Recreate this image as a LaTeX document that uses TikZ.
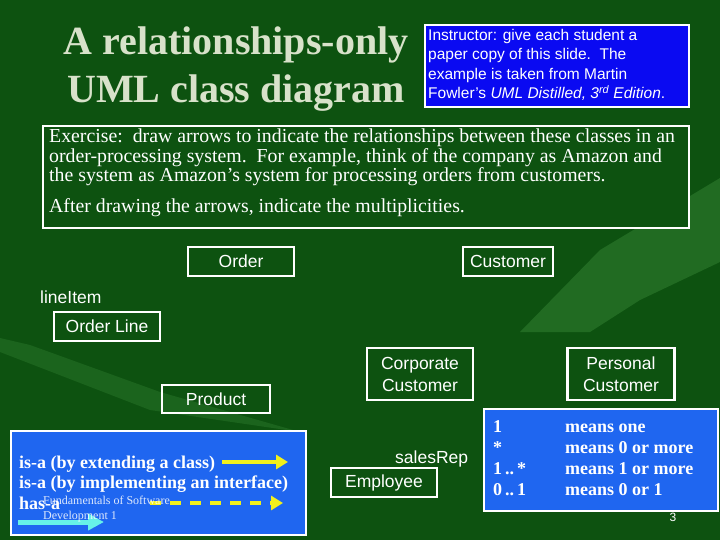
\documentclass[tikz,border=0pt]{standalone}
\usepackage{fontspec}
\setmainfont{Liberation Serif}
\setsansfont{Liberation Sans}
\usetikzlibrary{arrows.meta, shapes, positioning}
\definecolor{slidebg}{HTML}{0D5210}
\definecolor{swoosh}{HTML}{2A762A}
\definecolor{titletext}{HTML}{D8E2CA}
\definecolor{notebox}{HTML}{0A0AF2}
\definecolor{legendbox}{HTML}{1F66F0}
\definecolor{arrowyellow}{HTML}{F2F01C}
\definecolor{arrowcyan}{HTML}{66F2E8}
\tikzset{
    classbox/.style={
        rectangle, draw=white, line width=2.5pt, text=white, align=center,
        font=\sffamily\fontsize{17.5}{22}\selectfont, inner sep=0pt
    },
    bluebox/.style={
        rectangle, draw=white, line width=2.5pt, text=white, inner sep=0pt
    },
    plainlabel/.style={
        text=white, font=\sffamily\fontsize{17.5}{20}\selectfont, inner sep=0pt
    },
    legendtext/.style={
        text=white, font=\bfseries\fontsize{18}{21}\selectfont, inner sep=0pt, anchor=base west
    },
    legendarrow/.style={
        -{Triangle[length=12pt, width=14pt]}, line width=4pt, draw=arrowyellow
    }
}

\begin{document}
\begin{tikzpicture}[x=1pt, y=-1pt]
      \useasboundingbox (0,0) rectangle (720,540);
      \fill[slidebg] (0,0) rectangle (720,540);
      % faint swooshes in the background
      \fill[swoosh, opacity=0.7] (520,332) -- (600,250) -- (720,178) -- (720,262) -- (640,300) -- (590,332) -- cycle;
      \fill[swoosh, opacity=0.5] (0,338) -- (30,345) -- (160,392) -- (300,432) -- (150,410) -- (0,352) -- cycle;

      % title and instructor note
      \node[text=titletext, font=\bfseries\fontsize{40}{48}\selectfont, anchor=base, inner sep=0pt] (title1) at (236,55) {A relationships-only};
      \node[text=titletext, font=\bfseries\fontsize{40}{48}\selectfont, anchor=base, inner sep=0pt] (title2) at (236,103) {UML class diagram};

      \node[bluebox, fill=notebox, minimum width=264pt, minimum height=82pt] (note) at (557,66) {};
      \node[text=white, font=\sffamily\fontsize{15.5}{19.5}\selectfont, align=left, anchor=north west, inner sep=0pt] (notetext) at (428,29)
        {Instructor: give each student a\\paper copy of this slide.\ \ The\\example is taken from Martin\\Fowler's \emph{UML Distilled, 3\textsuperscript{rd} Edition}.};

      % exercise box
      \node[bluebox, fill=slidebg, minimum width=646pt, minimum height=102pt] (exercise) at (366,177) {};
      \node[text=white, font=\fontsize{19.8}{19.5}\selectfont, align=left, anchor=north west, inner sep=0pt] (exercisetext) at (49,129)
        {Exercise:\ \ draw arrows to indicate the relationships between these classes in an\\
         order-processing system.\ \ For example, think of the company as Amazon and\\
         the system as Amazon's system for processing orders from customers.\\[11pt]
         After drawing the arrows, indicate the multiplicities.};

      % classes
      \node[classbox, minimum width=106pt, minimum height=29pt] (order) at (241,261.5) {Order};
      \node[classbox, minimum width=90pt, minimum height=29pt] (customer) at (508,261.5) {Customer};
      \node[plainlabel, anchor=west] (lineitem) at (40,297) {lineItem};
      \node[classbox, minimum width=106pt, minimum height=29pt] (orderline) at (107,326.5) {Order Line};
      \node[classbox, minimum width=108pt, minimum height=28pt] (product) at (216,399) {Product};
      \node[classbox, minimum width=106pt, minimum height=52pt] (corporate) at (420,374) {Corporate\\Customer};
      \node[classbox, minimum width=107pt, minimum height=52pt, right=92pt of corporate] (personal) {Personal\\Customer};
      \node[plainlabel, anchor=west] (salesrep) at (395,459) {salesRep};
      \node[classbox, minimum width=106pt, minimum height=29pt] (employee) at (384,482.5) {Employee};

      % legend of arrows
      \node[bluebox, fill=legendbox, minimum width=295pt, minimum height=104pt] (legend) at (158.5,483) {};
      \node[legendtext] (isaclass) at (19,468) {is-a (by extending a class)};
      \node[legendtext] (isainterface) at (19,488.5) {is-a (by implementing an interface)};
      \node[legendtext] (hasa) at (19,509) {has-a};
      \coordinate (solidfrom) at (222,462);
      \coordinate (solidto) at (288,462);
      \coordinate (dashfrom) at (150,503);
      \coordinate (dashto) at (283,503);
      \coordinate (cyanfrom) at (18,522);
      \coordinate (cyanto) at (104,522);
      \draw[legendarrow] (solidfrom) -- (solidto);
      \draw[legendarrow, dash pattern=on 11pt off 9pt] (dashfrom) -- (dashto);
      \draw[-{Triangle[length=16pt, width=16pt]}, line width=5pt, draw=arrowcyan] (cyanfrom) -- (cyanto);
      \node[text=white, opacity=0.85, font=\fontsize{12}{15}\selectfont, align=left, anchor=north west, inner sep=0pt] (footer) at (43,496)
        {Fundamentals of Software\\Development 1};

      % multiplicities
      \node[bluebox, fill=legendbox, minimum width=234pt, minimum height=102pt] (mult) at (601,460) {};
      \node[legendtext] (m1) at (493,432) {1};
      \node[legendtext] (m2) at (493,453) {*};
      \node[legendtext] (m3) at (493,474) {1\,..\,*};
      \node[legendtext] (m4) at (493,495) {0\,..\,1};
      \node[legendtext] (d1) at (565,432) {means one};
      \node[legendtext] (d2) at (565,453) {means 0 or more};
      \node[legendtext] (d3) at (565,474) {means 1 or more};
      \node[legendtext] (d4) at (565,495) {means 0 or 1};

      \node[text=white, font=\sffamily\fontsize{12}{14}\selectfont, inner sep=0pt] (pagenum) at (673,517) {3};
    \end{tikzpicture}
\end{document}
